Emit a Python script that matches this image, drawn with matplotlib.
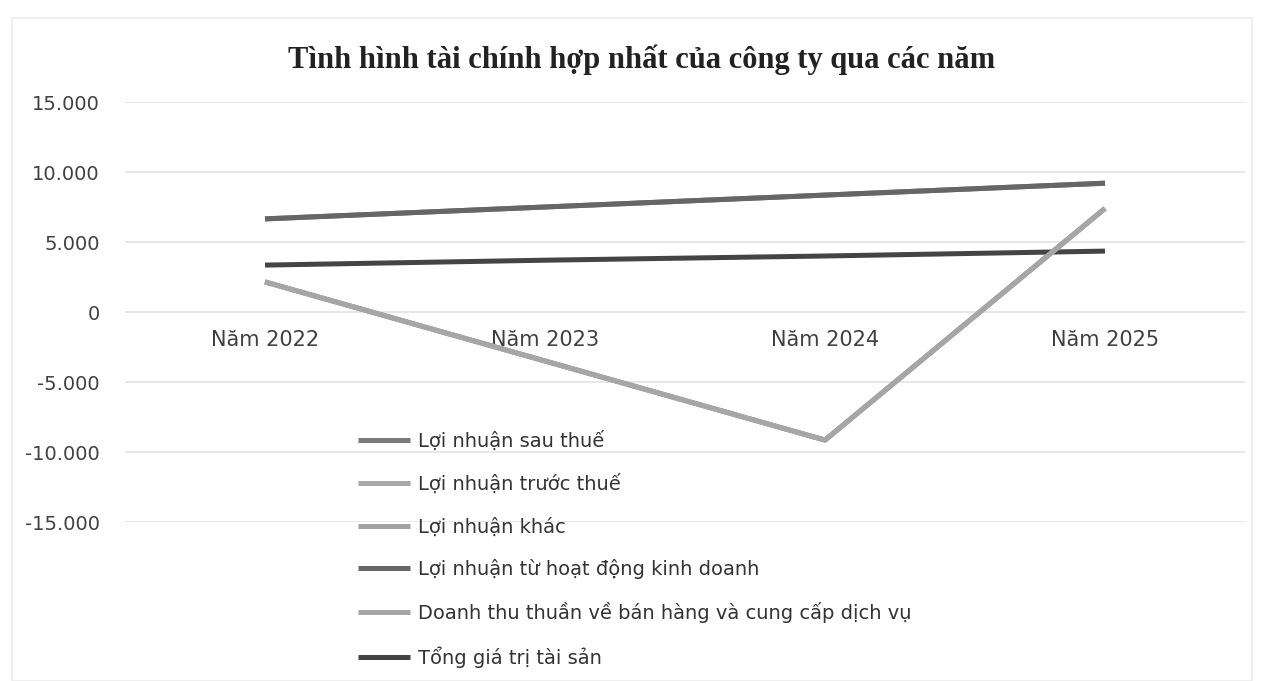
import matplotlib.pyplot as plt
from matplotlib.patches import Rectangle
from matplotlib.ticker import FuncFormatter

YEARS = ["Năm 2022", "Năm 2023", "Năm 2024", "Năm 2025"]

SERIES_NAMES = [
    "Lợi nhuận sau thuế",
    "Lợi nhuận trước thuế",
    "Lợi nhuận khác",
    "Lợi nhuận từ hoạt động kinh doanh",
    "Doanh thu thuần về bán hàng và cung cấp dịch vụ",
    "Tổng giá trị tài sản",
]

LOI_NHUAN_SAU_THUE = [6650, 7500, 8350, 9200]
LOI_NHUAN_TRUOC_THUE = [2150, -3500, -9150, 7400]
LOI_NHUAN_KHAC = [2150, -3500, -9150, 7400]
LOI_NHUAN_HDKD = [6650, 7500, 8350, 9200]
DOANH_THU_THUAN = [2150, -3500, -9150, 7400]
TONG_TAI_SAN = [3350, 3700, 4000, 4350]

SERIES_VALUES = [
    LOI_NHUAN_SAU_THUE,
    LOI_NHUAN_TRUOC_THUE,
    LOI_NHUAN_KHAC,
    LOI_NHUAN_HDKD,
    DOANH_THU_THUAN,
    TONG_TAI_SAN,
]

SERIES_COLORS = ["#7a7a7a", "#a8a8a8", "#a3a3a3", "#666666", "#a6a6a6", "#444444"]
# total assets sits under the profit lines where they cross
SERIES_ZORDER = [3, 3, 3, 3, 4, 2.5]

Y_TICKS = [-15000, -10000, -5000, 0, 5000, 10000, 15000]


def vn_thousands(value, _pos):
    return f"{int(value):,}".replace(",", ".")


fig = plt.figure(figsize=(12.63, 6.81), dpi=100)
ax = fig.add_axes([125 / 1263, 1 - 522 / 681, 1120 / 1263, 420 / 681])

x = range(len(YEARS))
for name, values, color, z in zip(SERIES_NAMES, SERIES_VALUES, SERIES_COLORS, SERIES_ZORDER):
    ax.plot(x, values, color=color, linewidth=3.6, solid_capstyle="butt", label=name, zorder=z)

ax.set_xlim(-0.5, len(YEARS) - 0.5)
ax.set_ylim(-15000, 15000)
ax.set_yticks(Y_TICKS)
ax.yaxis.set_major_formatter(FuncFormatter(vn_thousands))
ax.set_xticks(list(x))
ax.set_xticklabels(YEARS)

ax.grid(axis="y", color="#e3e3e3", linewidth=1.2)
ax.set_axisbelow(True)
for spine in ["top", "right", "left"]:
    ax.spines[spine].set_visible(False)
ax.spines["bottom"].set_position(("data", 0))
ax.spines["bottom"].set_visible(False)

ax.tick_params(axis="y", length=0, pad=18, labelsize=14, labelcolor="#404040")
ax.tick_params(axis="x", length=0, pad=13, labelsize=15, labelcolor="#404040")

fig.text(
    0.508,
    1 - 60 / 681,
    "Tình hình tài chính hợp nhất của công ty qua các năm",
    ha="center",
    va="center",
    fontsize=22,
    fontweight="bold",
    family="Liberation Serif",
    color="#222222",
)

fig.legend(
    loc="upper left",
    bbox_to_anchor=(358 / 1263, 1 - 431 / 681),
    frameon=False,
    borderpad=0,
    borderaxespad=0,
    handlelength=2.68,
    handletextpad=0.4,
    labelspacing=1.18,
    prop={"size": 14},
    labelcolor="#333333",
)

fig.add_artist(
    Rectangle((12 / 1263, 0), 1240 / 1263, 1 - 18 / 681, transform=fig.transFigure,
              fill=False, edgecolor="#ececec", linewidth=1.2)
)

fig.savefig("out.png", dpi=100, facecolor="white")
